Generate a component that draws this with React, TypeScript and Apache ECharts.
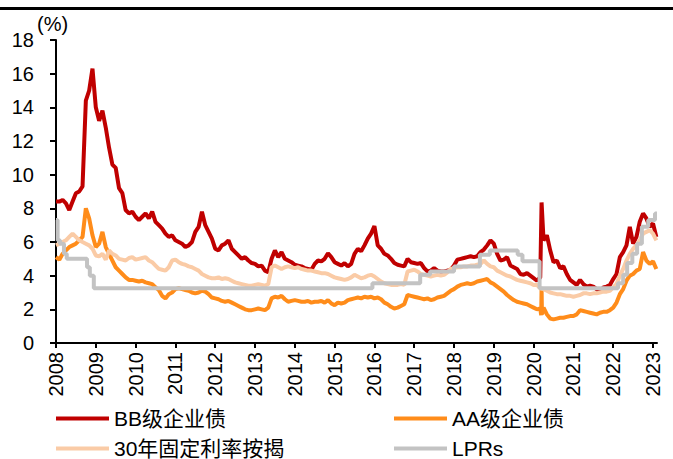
import React, { useEffect, useRef } from "react";
import * as echarts from "echarts";

const START_YEAR = 2008;
const yearTicks = [2008, 2009, 2010, 2011, 2012, 2013, 2014, 2015, 2016, 2017, 2018, 2019, 2020, 2021, 2022, 2023];
const seriesNames = ["BB级企业债", "AA级企业债", "30年固定利率按揭", "LPRs"];

// monthly values, Jan 2008 .. Feb 2023
const bbValues = [
  8.4, 8.4, 8.5, 8.3, 7.9, 8.4, 8.9, 9.0, 9.3, 14.4, 15.0, 16.3,
  14.0, 13.2, 13.8, 12.8, 11.6, 10.6, 10.4, 9.2, 8.9, 7.9, 7.7, 7.8,
  7.5, 7.3, 7.5, 7.7, 7.4, 7.8, 7.2, 7.0, 6.8, 6.5, 6.3, 6.4,
  6.1, 6.0, 5.9, 5.7, 5.8, 6.0, 6.6, 6.9, 7.8, 7.0, 6.6, 6.2,
  5.6, 5.5, 5.8, 5.9, 6.1, 5.6, 5.4, 5.2, 5.0, 5.1, 4.9, 4.75,
  4.7, 4.55, 4.6, 4.3, 4.2, 5.0, 5.5, 5.1, 5.4, 5.0, 4.9, 4.8,
  4.65, 4.6, 4.55, 4.45, 4.4, 4.35, 4.7, 4.9, 4.85, 5.0, 5.33, 5.1,
  4.8, 4.7, 4.6, 4.75, 4.55, 4.7, 5.3, 5.6, 5.45, 5.8, 6.2, 6.5,
  6.95, 5.8, 5.6, 5.3, 5.2, 5.0, 4.75, 4.65, 4.6, 4.55, 5.0, 4.8,
  4.75, 4.7, 4.75, 4.45, 4.25, 4.3, 4.45, 4.3, 4.25, 4.25, 4.3, 4.35,
  4.6, 4.95, 5.0, 5.05, 5.1, 5.15, 5.1, 5.15, 5.4, 5.55, 5.8, 6.1,
  5.9, 5.3, 4.9, 4.95, 5.1, 4.6, 4.5, 4.4, 4.1, 4.05, 4.15, 4.0,
  3.85, 3.7, 3.9, 6.1, 6.4, 5.5, 4.8, 4.9, 4.45, 4.55, 4.1, 3.75,
  3.6, 3.45, 3.75, 3.5, 3.35, 3.4, 3.35, 3.2, 3.05, 3.3, 3.35, 3.45,
  3.8, 4.1, 5.1, 5.4, 5.8, 6.9, 5.9, 6.3, 7.2, 7.7, 7.4, 6.9,
  7.1, 6.3,
];
const bbExtra = [[2020.2, 8.35]];

const aaValues = [
  5.1, 4.95, 5.3, 5.5, 5.7, 5.8, 5.9, 6.1, 6.3, 8.0, 7.4, 6.4,
  5.7, 5.9, 6.6, 5.7, 5.3, 4.9, 4.5, 4.3, 4.1, 3.9, 3.75, 3.75,
  3.7, 3.65, 3.7, 3.6, 3.55, 3.5, 3.3, 3.15, 2.8, 2.65, 2.9, 3.0,
  3.2, 3.25, 3.2, 3.15, 3.1, 3.0, 2.95, 3.0, 3.1, 3.05, 2.9, 2.7,
  2.65, 2.6, 2.5, 2.45, 2.5, 2.4, 2.3, 2.2, 2.1, 2.0, 1.95, 1.95,
  2.0, 2.05, 2.0, 1.95, 2.1, 2.65, 2.75, 2.7, 2.8, 2.6, 2.45, 2.5,
  2.55, 2.5, 2.45, 2.45, 2.5, 2.4, 2.45, 2.45, 2.5, 2.4, 2.55, 2.35,
  2.25, 2.4, 2.35, 2.4, 2.55, 2.6, 2.65, 2.7, 2.65, 2.75, 2.7, 2.75,
  2.65, 2.7, 2.6, 2.4, 2.3, 2.15, 2.05, 2.1, 2.2, 2.3, 2.85, 2.8,
  2.75, 2.7, 2.65, 2.6, 2.65, 2.55, 2.6, 2.7, 2.75, 2.8, 2.95, 3.1,
  3.2, 3.35, 3.45, 3.5, 3.55, 3.5, 3.55, 3.65, 3.7, 3.75, 3.8, 3.6,
  3.5, 3.35, 3.2, 3.05, 2.85, 2.7, 2.55, 2.45, 2.4, 2.35, 2.3, 2.2,
  2.1, 2.0, 2.05, 2.1, 1.7, 1.45, 1.4, 1.45, 1.5, 1.5, 1.55, 1.6,
  1.6, 1.7, 1.95, 1.9, 1.85, 1.8, 1.75, 1.7, 1.8, 1.85, 1.85, 1.95,
  2.1, 2.4, 2.9, 3.2, 3.7, 4.0, 4.1, 4.3, 4.4, 5.4, 4.9, 4.7,
  4.85, 4.4,
];
const aaExtra = [[2020.19, 1.65], [2020.2, 3.3], [2020.21, 1.7]];

const mortgageValues = [
  5.8, 5.9, 6.0, 6.1, 6.3, 6.5, 6.3, 6.1, 6.0, 5.9, 5.8, 5.6,
  5.2, 5.15, 5.3, 4.95, 5.5, 5.3, 5.2, 5.0, 4.95, 4.9, 5.05, 5.1,
  4.95, 5.0, 5.05, 5.1, 4.9, 4.8, 4.6, 4.4, 4.35, 4.3, 4.5, 4.9,
  4.95, 4.8, 4.7, 4.65, 4.55, 4.5, 4.4, 4.3, 4.1, 4.0, 3.9, 3.85,
  3.85, 3.9, 3.8, 3.85, 3.8, 3.7, 3.6, 3.55, 3.5, 3.45, 3.4, 3.4,
  3.45, 3.5, 3.45, 3.4, 3.5, 4.5, 4.6, 4.5, 4.4, 4.5, 4.55, 4.5,
  4.45, 4.5, 4.4, 4.35, 4.3, 4.3, 4.25, 4.2, 4.15, 4.15, 4.1, 4.0,
  3.9, 3.85, 3.8, 3.75, 3.8, 3.9, 4.05, 3.95, 3.85, 3.9, 4.0, 4.05,
  3.95, 3.8, 3.65, 3.55, 3.5, 3.45, 3.45, 3.45, 3.5, 3.45, 4.25, 4.3,
  4.35, 4.25, 4.1, 4.05, 4.0, 3.95, 4.0, 4.05, 4.0, 4.05, 4.2, 4.4,
  4.45, 4.5, 4.5, 4.55, 4.55, 4.6, 4.6, 4.65, 4.7, 4.9, 4.7, 4.55,
  4.5, 4.3, 4.2, 4.1, 4.0, 3.95, 3.85, 3.75, 3.7, 3.65, 3.6, 3.55,
  3.45, 3.45, 3.25, 3.2, 3.1, 3.0, 2.95, 2.9, 2.9, 2.85, 2.8, 2.8,
  2.75, 2.8, 2.85, 2.95, 2.95, 2.9, 2.95, 2.95, 3.0, 3.05, 3.05, 3.1,
  3.3, 3.5, 4.0, 4.4, 4.9, 5.3, 5.6, 5.8, 6.1, 6.5, 6.6, 6.7,
  6.5, 6.1,
];

// LPR steps: [date, level from that date on]
const lprSteps = [
  [2008.0, 7.3], [2008.04, 6.1], [2008.1, 5.9], [2008.2, 5.3], [2008.27, 5.0],
  [2008.78, 4.5], [2008.85, 4.0], [2008.95, 3.25], [2015.95, 3.55], [2017.15, 4.05],
  [2017.4, 4.25], [2018.0, 4.55], [2018.65, 5.25], [2018.9, 5.5], [2019.6, 5.25],
  [2019.72, 4.85], [2020.15, 3.25], [2022.12, 3.55], [2022.25, 4.05], [2022.35, 4.75],
  [2022.48, 5.3], [2022.6, 5.9], [2022.72, 6.9], [2022.88, 7.3], [2023.05, 7.7],
  [2023.1, 7.7],
];

function build(values: number[], extra: number[][] = []) {
  const pts = values.map((v, i) => [START_YEAR + i / 12, v]);
  return pts.concat(extra).sort((a, b) => a[0] - b[0]);
}

const FONT = "'Liberation Sans', Arial, 'Noto Sans CJK SC', sans-serif";

export default function App() {
  const ref = useRef<HTMLDivElement>(null);
  useEffect(() => {
    if (!ref.current) return;
    document.body.style.margin = "0";
    const chart = echarts.init(ref.current, null, { renderer: "svg" });
    const lineSeries = (name: string, data: any[], color: string, extra: any = {}) => ({
      name,
      type: "line",
      data,
      showSymbol: false,
      symbol: "none",
      lineStyle: { color, width: 4 },
      itemStyle: { color },
      ...extra,
    });
    const legendBase = {
      orient: "vertical",
      top: 408,
      padding: 0,
      icon: "rect",
      itemWidth: 53,
      itemHeight: 4,
      itemGap: 9,
      textStyle: { fontSize: 21, color: "#000", fontFamily: FONT, lineHeight: 21 },
    };
    chart.setOption({
      animation: false,
      grid: { left: 56, right: 16, top: 40, bottom: 116, containLabel: false, outerBoundsMode: "none" },
      xAxis: {
        type: "value",
        min: 2008,
        max: 2023.1,
        interval: 1,
        axisLine: { lineStyle: { color: "#000", width: 2 } },
        axisTick: { show: true, length: 5, lineStyle: { color: "#000", width: 2 }, customValues: yearTicks },
        axisLabel: {
          rotate: 90,
          margin: 9,
          fontSize: 20,
          fontFamily: FONT,
          color: "#000",
          customValues: yearTicks,
          formatter: (v: number) => String(Math.round(v)),
        },
        splitLine: { show: false },
      },
      yAxis: {
        type: "value",
        min: 0,
        max: 18,
        interval: 2,
        axisLine: { show: true, lineStyle: { color: "#000", width: 2 } },
        axisTick: { show: true, length: 6, lineStyle: { color: "#000", width: 2 } },
        axisLabel: { fontSize: 20, margin: 22, color: "#000", fontFamily: FONT },
        splitLine: { show: false },
      },
      legend: [
        { ...legendBase, left: 56, data: [seriesNames[0], seriesNames[2]] },
        { ...legendBase, left: 394, data: [seriesNames[1], seriesNames[3]] },
      ],
      graphic: [
        { type: "rect", left: 0, top: 7, shape: { width: 673, height: 3 }, style: { fill: "#000" } },
        {
          type: "text",
          left: 37,
          top: 14,
          style: { text: "(%)", fontSize: 20, fontFamily: FONT, fill: "#000" },
        },
      ],
      series: [
        lineSeries(seriesNames[0], build(bbValues, bbExtra), "#C00000"),
        lineSeries(seriesNames[1], build(aaValues, aaExtra), "#FF8C1A"),
        lineSeries(seriesNames[2], build(mortgageValues), "#FACBA6"),
        lineSeries(seriesNames[3], lprSteps, "#C3C3C3", { step: "end" }),
      ],
    });
    return () => chart.dispose();
  }, []);
  return <div ref={ref} style={{ width: 673, height: 459 }} />;
}
